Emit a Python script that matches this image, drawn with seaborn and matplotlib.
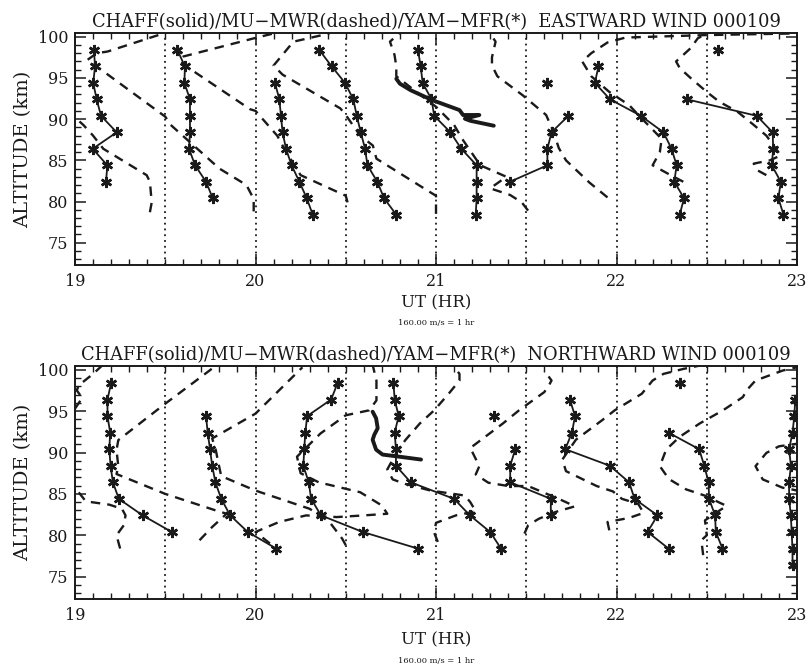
"""Meteor wind profiles 2000-01-09: chaff / MU-MWR / Yamagawa MFR, eastward + northward."""

import numpy as np
import pandas as pd
import matplotlib
matplotlib.use("Agg")
import matplotlib.pyplot as plt
import matplotlib.ticker as mticker
import seaborn as sns

sns.set_theme(style="ticks")
plt.rcParams["font.family"] = ["DejaVu Serif"]

nan = np.nan

# ---------------------------------------------------------------------------
# Data (profiles already placed on the UT axis, 160 m/s = 1 hr)
# ---------------------------------------------------------------------------

mfr_alt = [98.4, 96.4, 94.4, 92.4, 90.4, 88.4, 86.4, 84.4, 82.4, 80.4, 78.4, 76.4]

east_mfr = [
    [19.105, 19.111, 19.101, 19.12, 19.144, 19.231, 19.098, 19.179, 19.172, nan, nan, nan],
    [19.567, 19.609, 19.606, 19.637, 19.637, 19.637, 19.632, 19.665, 19.726, 19.763, nan, nan],
    [nan, nan, 20.108, 20.132, 20.141, 20.15, 20.169, 20.20, 20.243, 20.284, 20.317, nan],
    [20.353, 20.422, 20.496, 20.542, 20.561, 20.583, 20.607, 20.62, 20.675, 20.712, 20.78, nan],
    [20.90, 20.915, 20.926, 20.975, 20.99, 21.08, 21.14, 21.225, 21.225, 21.225, 21.22, nan],
    [nan, nan, 21.617, nan, 21.733, 21.64, 21.617, 21.617, 21.41, nan, nan, nan],
    [nan, 21.90, 21.88, 21.964, 22.135, 22.26, 22.305, 22.333, 22.32, 22.374, 22.35, nan],
    [22.56, nan, nan, 22.39, 22.777, 22.865, 22.868, 22.86, 22.91, 22.897, 22.925, nan],
]

north_mfr = [
    [19.20, 19.18, 19.18, 19.195, 19.19, 19.197, 19.21, 19.243, 19.375, 19.536, nan, nan],
    [nan, nan, 19.726, 19.735, 19.748, 19.76, 19.778, 19.81, 19.86, 19.957, 20.114, nan],
    [20.455, 20.419, 20.286, 20.276, 20.27, 20.265, 20.295, 20.308, 20.363, 20.594, 20.898, nan],
    [20.764, 20.771, 20.793, 20.771, 20.778, 20.778, 20.86, 21.10, 21.188, 21.30, 21.36, nan],
    [nan, nan, 21.323, nan, 21.439, 21.411, 21.411, 21.636, 21.636, nan, nan, nan],
    [nan, 21.742, 21.77, 21.753, 21.716, 21.963, 22.07, 22.10, 22.227, 22.172, 22.288, nan],
    [22.351, nan, nan, 22.288, 22.458, 22.486, 22.51, 22.513, 22.546, 22.55, 22.587, nan],
    [nan, 22.99, 22.985, 22.975, 22.956, 22.966, 22.956, 22.956, 22.966, 22.97, 22.975, 22.975],
]

east_chaff_ut = [20.78, 20.80, 20.86, 20.98, 21.13, 21.15, 21.24, 21.16, 21.19, 21.32]
east_chaff_alt = [94.9, 94.3, 93.5, 92.3, 91.1, 90.5, 90.5, 90.05, 89.8, 89.2]
north_chaff_ut = [20.649, 20.668, 20.677, 20.658, 20.649, 20.668, 20.704, 20.778, 20.917]
north_chaff_alt = [94.93, 94.14, 92.94, 92.14, 91.54, 90.35, 89.75, 89.55, 89.15]

east_mwr_ut = [
    [19.415, 19.425, 19.415, 19.397, 19.157, 19.10, 19.046, 19.0, 18.95],
    [19.99, 19.99, 19.95, 19.80, 19.53, 19.5, 19.07, 19.12, 19.18, 19.49, 19.55],
    [20.51, 20.5, 20.25, 20.17, 20.12, 20.0, 19.97, 19.61, 19.58, 19.6, 19.99, 20.1],
    [21.0, 21.0, 20.97, 20.67, 20.65, 20.58, 20.5, 20.47, 20.15, 20.1, 20.21, 20.41],
    [21.51, 21.475, 21.41, 21.30, 21.39, 21.245, 21.145, 21.10, 21.0, 20.88, 20.78, 20.78,
     20.77, 20.745, 20.8],
    [21.95, 21.85, 21.72, 21.68, 21.65, 21.61, 21.48, 21.34, 21.31, 21.31, 21.33, 21.29],
    [22.37, 22.30, 22.20, 22.24, 22.25, 22.13, 22.07, 21.96, 21.86, 21.81, 21.86, 21.95,
     22.05, 22.5, 23.0],
    [22.83, 22.78, 22.76, 22.85, 22.91, 22.83, 22.76, 22.67, 22.57, 22.5, 22.41, 22.35,
     22.33, 22.41, 22.45, 22.5],
]
east_mwr_alt = [
    [78.7, 79.9, 82.4, 83.2, 86.4, 88.0, 89.3, 90.2, 91.0],
    [78.8, 80.3, 82.0, 84.0, 89.3, 90.3, 97.2, 98.0, 98.2, 100.4, 100.8],
    [79.9, 80.7, 83.2, 86.0, 88.0, 91.0, 91.2, 96.5, 97.2, 97.6, 99.8, 100.4],
    [78.5, 80.7, 81.1, 85.2, 86.8, 88.0, 90.5, 91.3, 95.4, 96.5, 99.4, 100.4],
    [78.9, 79.9, 80.8, 81.6, 83.0, 84.4, 87.6, 89.3, 91.5, 93.5, 95.2, 96.4, 97.8, 99.4, 100.5],
    [80.5, 82.3, 85.0, 86.5, 88.5, 90.5, 92.9, 95.2, 96.5, 97.5, 99.4, 100.7],
    [82.4, 83.2, 84.4, 86.0, 87.6, 90.3, 91.7, 93.3, 95.2, 97.0, 98.0, 99.3, 99.9, 100.2, 100.4],
    [83.2, 83.8, 84.6, 85.0, 85.6, 88.0, 89.3, 90.9, 92.1, 93.3, 95.0, 96.2, 97.0, 98.6, 99.8,
     100.4],
]

north_mwr_ut = [
    [19.0, 19.04, 19.01, 19.02, 19.1, 19.15],
    [19.25, 19.23, 19.27, 19.28, 19.26, 19.19, 19.06, 19.02, 18.98],
    [19.69, 19.76, 19.84, 19.78, 19.5, 19.23, 19.24, 19.23, 19.24, 19.5, 19.745, 19.78],
    [20.08, 20.0, 20.13, 20.28, 20.45, 20.6, 20.73, 20.70, 20.58, 20.35, 20.25, 20.23, 20.36,
     20.5, 20.63, 20.67, 20.67, 20.65],
    [20.50, 20.48, 20.41, 20.30, 20.0, 19.81, 19.79, 19.78, 19.76, 20.0, 20.26],
    [21.01, 20.99, 21.0, 21.11, 21.22, 21.19, 21.16, 20.97, 20.83, 20.76, 20.73, 20.78, 20.83,
     20.91, 20.99, 21.07, 21.13, 21.13, 21.1],
    [21.49, 21.51, 21.57, 21.66, 21.77, 21.68, 21.51, 21.4, 21.29, 21.22, 21.24, 21.19, 21.37,
     21.46, 21.6, 21.63, 21.64, 21.6],
    [21.96, 21.95, 22.07, 22.15, 22.12, 22.03, 21.98, 21.89, 21.72, 21.70, 21.775, 21.92, 21.99,
     22.14, 22.2, 22.26, 22.37, 22.46],
    [22.48, 22.47, 22.5, 22.49, 22.55, 22.61, 22.57, 22.495, 22.385, 22.29, 22.24, 22.275,
     22.35, 22.46, 22.59, 22.70, 22.72, 22.77, 22.92, 23.0],
    [23.02, 22.97, 22.92, 22.81, 22.77, 22.83, 22.9, 22.98, 23.05],
]
north_mwr_alt = [
    [95.3, 96.6, 97.5, 98.1, 99.5, 100.5],
    [78.4, 80.0, 81.2, 82.4, 83.2, 83.7, 84.1, 85.2, 86.0],
    [79.4, 81.0, 82.6, 83.0, 85.0, 87.4, 88.3, 90.3, 91.5, 95.9, 99.9, 100.5],
    [79.0, 80.4, 81.6, 82.4, 82.2, 82.4, 82.6, 83.6, 85.2, 86.4, 87.5, 89.5, 92.3, 94.5, 95.1,
     96.3, 98.7, 100.5],
    [78.8, 79.6, 81.6, 83.2, 85.4, 87.15, 89.2, 90.3, 91.7, 94.7, 100.3],
    [79.2, 80.3, 81.5, 82.4, 82.9, 84.0, 84.8, 85.4, 86.2, 86.75, 87.95, 89.95, 91.5, 93.5,
     95.1, 97.1, 98.7, 99.5, 100.4],
    [80.2, 81.2, 82.0, 82.8, 83.5, 84.4, 85.95, 85.95, 86.35, 87.35, 88.35, 90.55, 93.5, 95.1,
     97.3, 98.3, 98.7, 99.9],
    [80.6, 81.6, 82.1, 82.7, 83.8, 84.4, 85.3, 85.95, 87.75, 89.15, 91.55, 93.9, 95.1, 97.1,
     98.7, 99.5, 100.1, 100.5],
    [77.6, 79.4, 80.0, 81.8, 82.7, 83.55, 83.95, 84.75, 85.55, 86.8, 88.35, 90.35, 91.9, 93.5,
     95.1, 96.7, 97.5, 98.7, 99.9, 100.3],
    [85.3, 85.55, 85.75, 86.75, 88.35, 89.95, 90.75, 91.0, 91.2],
]

dotted_hours = [19.5, 20.0, 20.5, 21.0, 21.5, 22.0, 22.5]
x_ticks = [19, 20, 21, 22, 23]
y_ticks = [75, 80, 85, 90, 95, 100]

# ---------------------------------------------------------------------------
# Helpers
# ---------------------------------------------------------------------------

def _mfr_frame(profiles: list[list[float]]) -> pd.DataFrame:
    """Long table of MFR points; a missing level starts a new segment."""
    rows = []
    for i, prof in enumerate(profiles):
        seg = 0
        for alt, ut in zip(mfr_alt, prof):
            if np.isnan(ut):
                seg += 1
                continue
            rows.append({"ut": ut, "alt": alt, "unit": f"{i}-{seg}"})
    return pd.DataFrame(rows)


def _curve_frame(uts: list[list[float]], alts: list[list[float]]) -> pd.DataFrame:
    rows = []
    for i, (us, zs) in enumerate(zip(uts, alts)):
        for u, z in zip(us, zs):
            rows.append({"ut": u, "alt": z, "unit": i})
    return pd.DataFrame(rows)


def draw_panel(ax, mfr, chaff_ut, chaff_alt, mwr_ut, mwr_alt, title):
    for h in dotted_hours:
        ax.axvline(h, color="k", lw=1.3, ls=(0, (1, 2.2)), zorder=1)

    sns.lineplot(data=_curve_frame(mwr_ut, mwr_alt), x="ut", y="alt", units="unit",
                 estimator=None, sort=False, color="k", lw=1.7, ls=(0, (4, 3)),
                 legend=False, ax=ax)
    sns.lineplot(x=chaff_ut, y=chaff_alt, estimator=None, sort=False, color="k",
                 lw=2.8, legend=False, ax=ax)
    sns.lineplot(data=_mfr_frame(mfr), x="ut", y="alt", units="unit",
                 estimator=None, sort=False, color="k", lw=1.3,
                 marker=(6, 2, 0), markersize=8, mew=1.8, mec="k",
                 legend=False, ax=ax)

    ax.set_xlim(19, 23)
    ax.set_ylim(72.3, 100.45)
    ax.set_xticks(x_ticks)
    ax.set_yticks(y_ticks)
    ax.xaxis.set_minor_locator(mticker.MultipleLocator(0.1))
    ax.yaxis.set_minor_locator(mticker.MultipleLocator(1))
    ax.tick_params(which="both", direction="in", top=True, right=True, color="k",
                   labelsize=11.5, labelcolor="k")
    ax.tick_params(which="major", length=8, width=1.1)
    ax.tick_params(which="minor", length=4, width=1.0)
    ax.tick_params(axis="x", pad=6)
    ax.tick_params(axis="y", pad=5)
    for sp in ax.spines.values():
        sp.set_color("k")
        sp.set_linewidth(1.4)
    ax.set_xlabel("")
    ax.set_ylabel("ALTITUDE (km)", fontsize=14, color="k", labelpad=4)
    ax.set_title(title, fontsize=12.9, color="k", pad=4)


# ---------------------------------------------------------------------------
# Figure
# ---------------------------------------------------------------------------

fig = plt.figure(figsize=(8.09, 6.71), dpi=100)
fig.patch.set_facecolor("white")

ax_top = fig.add_axes([0.0927, 0.6051, 0.8925, 0.3457])
ax_bot = fig.add_axes([0.0927, 0.1073, 0.8925, 0.3472])

draw_panel(ax_top, east_mfr, east_chaff_ut, east_chaff_alt, east_mwr_ut, east_mwr_alt,
           "CHAFF(solid)/MU\u2212MWR(dashed)/YAM\u2212MFR(*)  EASTWARD WIND 000109")
draw_panel(ax_bot, north_mfr, north_chaff_ut, north_chaff_alt, north_mwr_ut, north_mwr_alt,
           "CHAFF(solid)/MU\u2212MWR(dashed)/YAM\u2212MFR(*)  NORTHWARD WIND 000109")

for y_lab, y_note in [(1 - 303 / 671, 1 - 323 / 671), (1 - 640 / 671, 1 - 661 / 671)]:
    fig.text(0.539, y_lab, "UT (HR)", ha="center", va="center", fontsize=12, color="k")
    fig.text(0.539, y_note, "160.00 m/s = 1 hr", ha="center", va="center",
             fontsize=6, color="k")

fig.savefig("out.png", dpi=100, facecolor="white")
